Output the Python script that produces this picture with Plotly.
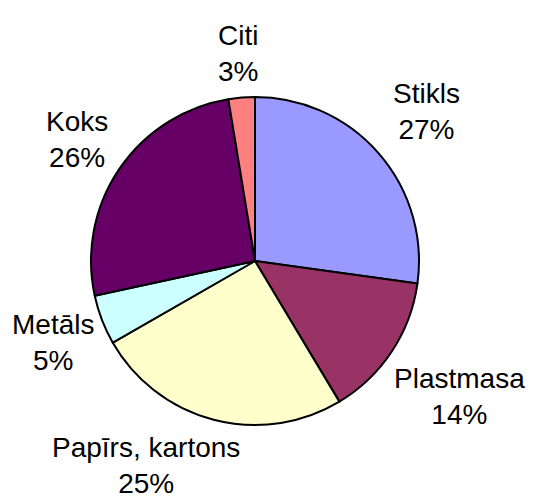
import math
import plotly.graph_objects as go

labels = ["Stikls", "Plastmasa", "Papīrs, kartons", "Metāls", "Koks", "Citi"]
values = [27.2, 14.2, 25.3, 4.9, 25.8, 2.6]
colors = ["#9999FF", "#993366", "#FFFFCC", "#CCFFFF", "#660066", "#FF8080"]

W, H = 547, 500
off = 8                         # page body margin
cx, cy, r = 255 - off, 261 - off, 164   # pie centre and radius (figure pixels)
fs = 28                         # label font size
gap = 11                        # gap between pie and label box
pad = 3                         # keep labels this far inside the visible area
xmin, ymin = pad, pad
xmax, ymax = W - off - pad, H - off - pad

fig = go.Figure(go.Pie(
    labels=labels,
    values=values,
    sort=False,
    direction="clockwise",
    rotation=0,
    marker=dict(colors=colors, line=dict(color="black", width=2)),
    textinfo="none",
    showlegend=False,
    hoverinfo="label+percent",
    domain=dict(x=[(cx - r) / W, (cx + r) / W],
                y=[(H - (cy + r)) / H, (H - (cy - r)) / H]),
))


def solve(fixed, centre, d, sign):
    return centre + math.copysign(math.sqrt(max(d * d - fixed ** 2, 0)), sign)


# outside labels placed along each slice's mid-angle ray
total = sum(values)
cum = 0.0
annotations = []
for lab, v in zip(labels, values):
    pct = round(v / total * 100)
    mid = (cum + v / 2) / total * 2 * math.pi
    cum += v
    lines = [lab, f"{pct}%"]
    hw = max(len(s) for s in lines) * 0.5 * fs / 2
    hh = 1.12 * fs
    ux, uy = math.sin(mid), -math.cos(mid)
    d = r + gap + abs(ux) * hw + abs(uy) * hh
    x, y = cx + d * ux, cy + d * uy
    if y + hh > ymax:
        y = ymax - hh
        x = solve(y - cy, cx, d, ux)
    if y - hh < ymin:
        y = ymin + hh
        x = solve(y - cy, cx, d, ux)
    x = min(max(x, xmin + hw), xmax - hw)
    annotations.append(dict(
        text="<br>".join(lines),
        x=x / W, y=1 - y / H, xref="paper", yref="paper",
        xanchor="center", yanchor="middle", showarrow=False,
        font=dict(family="Liberation Sans, Arial, sans-serif", size=fs, color="black"),
    ))

fig.update_layout(
    width=W, height=H,
    margin=dict(l=0, r=0, t=0, b=0),
    paper_bgcolor="white",
    plot_bgcolor="white",
    annotations=annotations,
)

fig.write_html("out.html")
